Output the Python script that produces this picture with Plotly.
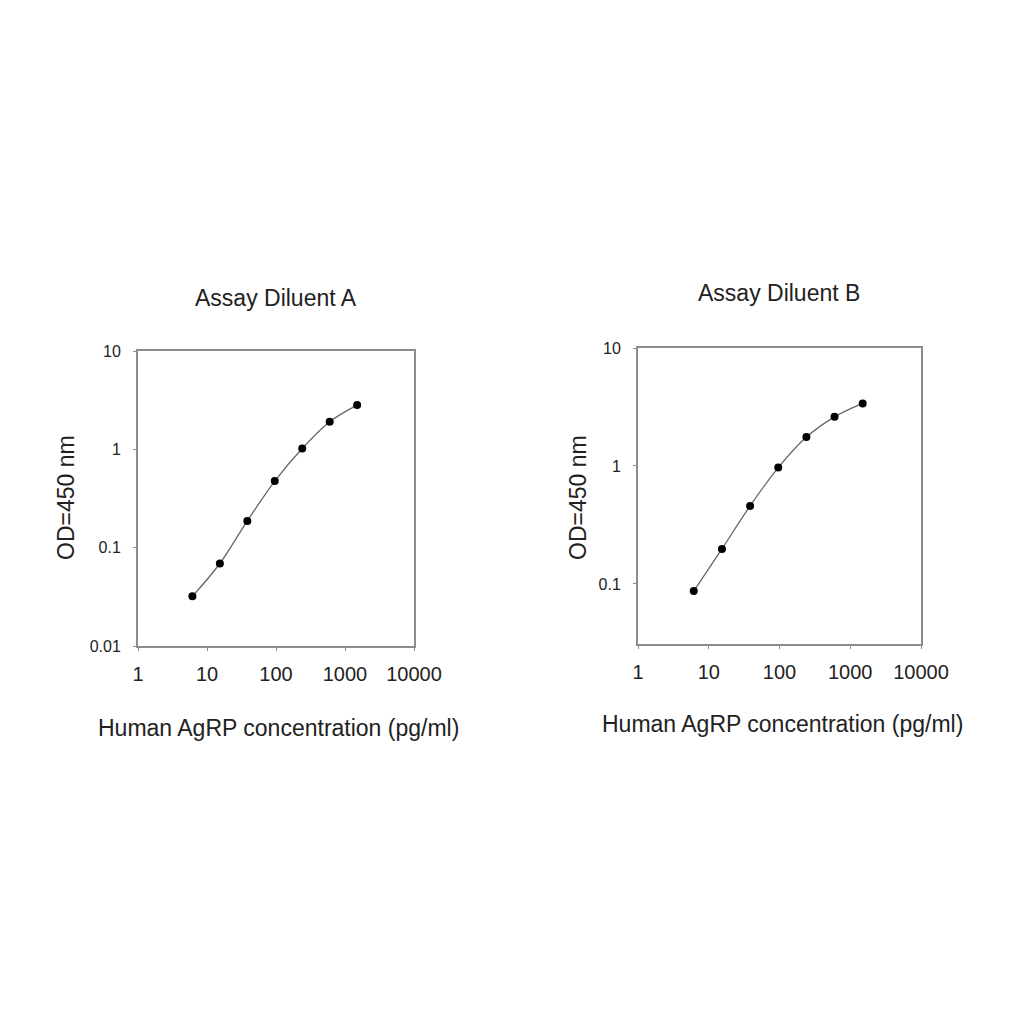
import numpy as np
import plotly.graph_objs as go

# концентрации стандарта (pg/ml), одинаковые для обеих панелей
conc = [6.14, 15.36, 38.4, 96, 240, 600, 1500]
# OD при 450 nm
od_a = [0.032, 0.069, 0.187, 0.476, 1.02, 1.91, 2.82]
od_b = [0.087, 0.198, 0.459, 0.97, 1.76, 2.61, 3.39]

x_ticks = [1, 10, 100, 1000, 10000]
y_ticks_a = [0.01, 0.1, 1, 10]
y_ticks_b = [0.1, 1, 10]

font = "Liberation Sans, Arial, sans-serif"
grey = "#8c8c8c"
W = 1024
OFF = 7  # отступ body в странице


def px(v):
    return (v - OFF) / W


def py(v):
    return 1 - (v - OFF) / W


fig = go.Figure()
fig.add_trace(go.Scatter(x=conc, y=od_a, mode="lines+markers", line_shape="spline",
                         line=dict(color="#666666", width=1.3),
                         marker=dict(color="black", size=8), xaxis="x", yaxis="y"))
fig.add_trace(go.Scatter(x=conc, y=od_b, mode="lines+markers", line_shape="spline",
                         line=dict(color="#666666", width=1.3),
                         marker=dict(color="black", size=8), xaxis="x2", yaxis="y2"))


def x_axis(domain, anchor):
    return dict(type="log", domain=domain, anchor=anchor, range=[0, 4],
                tickvals=x_ticks, ticktext=[str(v) for v in x_ticks],
                showline=True, linecolor=grey, linewidth=2, mirror=True,
                ticks="outside", ticklen=3, tickcolor=grey, showgrid=False,
                ticklabelstandoff=6, zeroline=False,
                tickfont=dict(family=font, size=20, color="#222"))


def y_axis(domain, anchor, rng, ticks):
    return dict(type="log", domain=domain, anchor=anchor, range=rng,
                tickvals=ticks, ticktext=[("%g" % v) for v in ticks],
                showline=True, linecolor=grey, linewidth=2, mirror=True,
                ticks="outside", ticklen=3, tickcolor=grey, showgrid=False,
                ticklabelstandoff=9, zeroline=False,
                tickfont=dict(family=font, size=16, color="#222"))


fig.update_layout(
    width=W, height=W, margin=dict(l=0, r=0, t=0, b=0, autoexpand=False),
    paper_bgcolor="white", plot_bgcolor="white", showlegend=False,
    xaxis=x_axis([px(137), px(413)], "y"),
    yaxis=y_axis([py(645), py(350)], "x", [-2, 1], y_ticks_a),
    xaxis2=x_axis([px(637), px(920)], "y2"),
    yaxis2=y_axis([py(643), py(347)], "x2", [np.log10(0.031), 1], y_ticks_b),
)

ann = dict(xref="paper", yref="paper", showarrow=False, xanchor="center", yanchor="middle",
           font=dict(family=font, size=23, color="#222"))
fig.add_annotation(text="Assay Diluent A", x=px(275), y=py(297), **ann)
fig.add_annotation(text="Assay Diluent B", x=px(778), y=py(292), **ann)
fig.add_annotation(text="Human AgRP concentration (pg/ml)", x=px(277), y=py(727), **ann)
fig.add_annotation(text="Human AgRP concentration (pg/ml)", x=px(781), y=py(723), **ann)
fig.add_annotation(text="OD=450 nm", x=px(65), y=py(497), textangle=-90, **ann)
fig.add_annotation(text="OD=450 nm", x=px(577), y=py(497), textangle=-90, **ann)

fig.write_html("out.html")
